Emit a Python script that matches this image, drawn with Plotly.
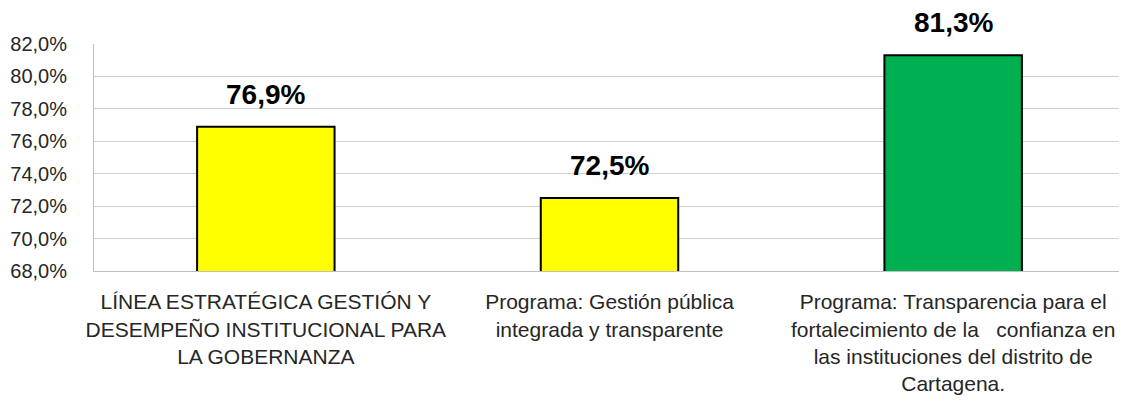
import plotly.graph_objects as go

categories = [
    "LÍNEA ESTRATÉGICA GESTIÓN Y<br>DESEMPEÑO INSTITUCIONAL PARA<br>LA GOBERNANZA",
    "Programa: Gestión pública<br>integrada y transparente",
    "Programa: Transparencia para el<br>fortalecimiento de la   confianza en<br>las instituciones del distrito de<br>Cartagena.",
]
values = [76.9, 72.5, 81.3]
bar_colors = ["#FFFF00", "#FFFF00", "#00B050"]
labels = ["76,9%", "72,5%", "81,3%"]
y_ticks = [68, 70, 72, 74, 76, 78, 80, 82]
y_tick_text = ["68,0%", "70,0%", "72,0%", "74,0%", "76,0%", "78,0%", "80,0%", "82,0%"]
title_text = "AVANCE A DICIEMBRE 2022"

font = "Liberation Sans, Arial, sans-serif"

fig = go.Figure(
    go.Bar(
        x=categories,
        y=values,
        marker={"color": bar_colors, "line": {"color": "#000000", "width": 2}},
        hoverinfo="skip",
    )
)

# value labels sit well above each bar, like the Excel original
for cat, val, lab in zip(categories, values, labels):
    fig.add_annotation(
        x=cat, y=val, text=f"<b>{lab}</b>", showarrow=False,
        yanchor="bottom", yshift=15,
        font={"family": font, "size": 28, "color": "#000000"},
    )

# chart title is cropped at the top of the picture; only its bottom edge shows
fig.add_annotation(
    x=0.437, y=1.14, xref="paper", yref="paper", text=f"<b>{title_text}</b>",
    showarrow=False, yanchor="bottom",
    font={"family": font, "size": 23, "color": "#7f7f7f"},
)

# page body adds an 8px offset, so the figure is 8px smaller each way
fig.update_layout(
    width=1119,
    height=399,
    margin={"l": 83, "r": 2, "t": 36, "b": 136},
    paper_bgcolor="white",
    plot_bgcolor="white",
    bargap=0.6,
    showlegend=False,
    font={"family": font, "size": 20, "color": "#262626"},
    xaxis={
        "showline": True, "linecolor": "#bfbfbf", "linewidth": 1,
        "ticks": "", "ticklabelstandoff": 12,
        "tickfont": {"size": 21, "color": "#262626"},
    },
    yaxis={
        "range": [68, 82], "tickvals": y_ticks, "ticktext": y_tick_text,
        "showgrid": True, "gridcolor": "#d0d0d0", "gridwidth": 1,
        "showline": True, "linecolor": "#bfbfbf", "linewidth": 1,
        "zeroline": False, "ticks": "", "ticklabelstandoff": 22,
        "tickfont": {"size": 20, "color": "#262626"},
    },
)

fig.write_html("out.html")
